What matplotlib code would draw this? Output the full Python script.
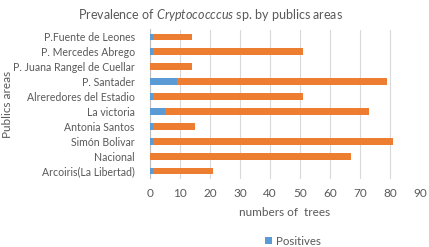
import matplotlib
matplotlib.use("Agg")
import matplotlib.pyplot as plt

plt.rcParams['font.family'] = ['Lato', 'DejaVu Sans']
plt.rcParams['mathtext.fontset'] = 'custom'
plt.rcParams['mathtext.rm'] = 'Lato'
plt.rcParams['mathtext.it'] = 'Lato:italic'

categories = ["P.Fuente de Leones", "P. Mercedes Abrego", "P. Juana Rangel de Cuellar",
              "P. Santader", "Alreredores del Estadio", "La victoria", "Antonia Santos",
              "Simón Bolivar", "Nacional", "Arcoiris(La Libertad)"]
positives = [1, 1, 0, 9, 1, 5, 1, 1, 0, 1]
totals = [14, 51, 14, 79, 51, 73, 15, 81, 67, 21]
others = [t - p for t, p in zip(totals, positives)]
xticks = [0, 10, 20, 30, 40, 50, 60, 70, 80, 90]

txt = '#595959'
W, H = 429, 247
fig = plt.figure(figsize=(W/100, H/100), dpi=100)
ax = fig.add_axes([150/W, 1-178.5/H, 270/W, 149/H])

ypos = list(range(len(categories)))[::-1]
ax.barh(ypos, positives, height=0.45, color='#5B9BD5', label='Positives', zorder=3)
ax.barh(ypos, others, left=positives, height=0.45, color='#ED7D31', label='_nolegend_', zorder=3)

ax.set_xlim(0, 90)
ax.set_ylim(-0.5, 9.5)
ax.set_xticks(xticks)
ax.set_xticklabels([str(v) for v in xticks])
ax.set_yticks(ypos)
ax.set_yticklabels(categories)
ax.tick_params(axis='both', length=0, colors=txt)
ax.tick_params(axis='x', pad=7, labelsize=8.5)
ax.tick_params(axis='y', pad=11, labelsize=7.6)
ax.grid(axis='x', color='#d9d9d9', linewidth=0.8, zorder=0)
for s in ['top', 'right', 'bottom']:
    ax.spines[s].set_visible(False)
ax.spines['left'].set_color('#bfbfbf')
ax.spines['left'].set_linewidth(0.8)

fig.text(211/W, 1-15/H, r'Prevalence of $\it{Cryptococccus}$ sp. by publics areas',
         ha='center', va='center', color=txt, fontsize=9)
fig.text(285/W, 1-212/H, 'numbers of  trees', ha='center', va='center', color=txt, fontsize=8.5)
fig.text(8/W, 1-104/H, 'Publics areas', ha='center', va='center', rotation=90, color=txt, fontsize=8.5)
leg = fig.legend(loc='center', bbox_to_anchor=(293/W, 1-241/H), frameon=False, fontsize=8.3,
                 handlelength=0.6, handleheight=0.6, handletextpad=0.3, labelcolor=txt)

fig.savefig('out.png', dpi=100)
